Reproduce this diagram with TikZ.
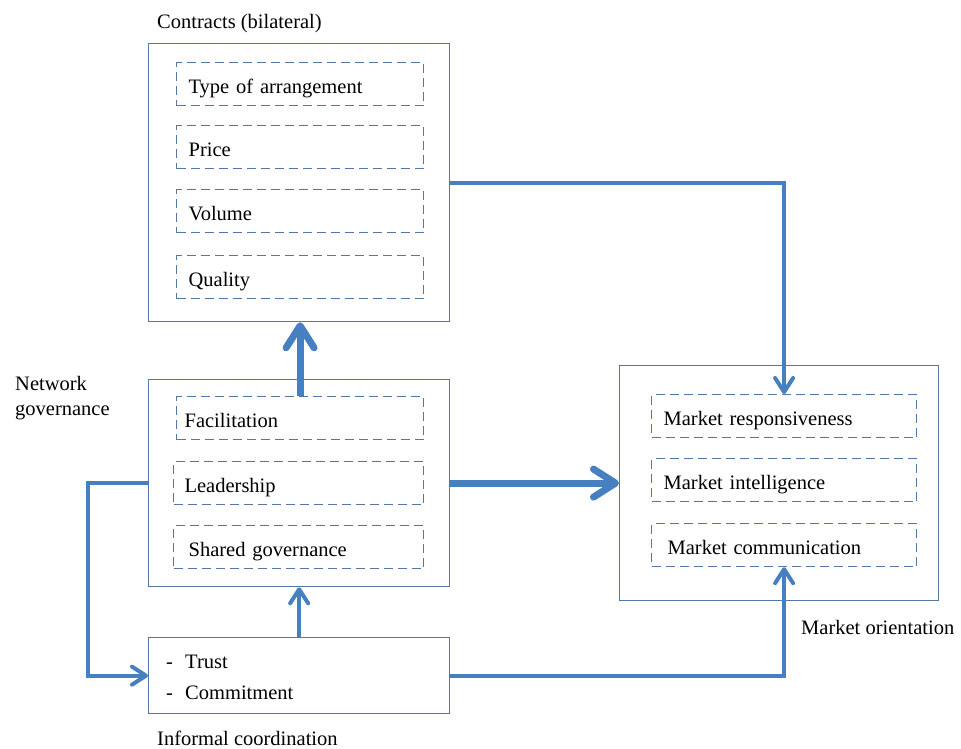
\documentclass[tikz,border=0pt]{standalone}
\usepackage{fontspec}
\setmainfont{Liberation Serif}
\usetikzlibrary{arrows.meta,positioning,calc}
\definecolor{bordc}{RGB}{84,119,165}
\definecolor{arrc}{RGB}{70,128,192}
\begin{document}
\begin{tikzpicture}[x=1pt,y=-1pt,
  every node/.style={font=\fontsize{20.5}{25}\selectfont, inner sep=0pt},
  outerbox/.style={draw=bordc, line width=1.3pt, anchor=north west},
  dbox/.style={draw=bordc, line width=1.2pt, dash pattern=on 9pt off 5pt, anchor=north west,
     minimum height=43pt, text height=20pt, text depth=2pt, text width=223pt, inner xsep=12pt, align=left},
  thickarr/.style={draw=arrc, line width=7pt, -{Straight Barb[round,length=22pt,width=28pt]}},
  thinarr/.style={draw=arrc, line width=4pt, -{Straight Barb[round,length=14pt,width=18pt]}},
  lbl/.style={anchor=west}]
\useasboundingbox (0,0) rectangle (961,748);
% outer boxes
\node[outerbox, minimum width=301pt, minimum height=278pt] (contracts) at (148,43) {};
\node[outerbox, minimum width=301pt, minimum height=207pt] (network) at (148,379) {};
\node[outerbox, minimum width=301pt, minimum height=76pt] (informal) at (148,637) {};
\node[outerbox, minimum width=319pt, minimum height=235pt] (market) at (619,365) {};
% dashed boxes in contracts
\node[dbox] (type) at (176,62) {Type of arrangement};
\node[dbox] (price) at (176,125) {Price};
\node[dbox] (volume) at (176,189) {Volume};
\node[dbox] (quality) at (176,255) {Quality};
% network governance
\node[dbox, inner xsep=8pt, text width=231pt] (facil) at (176,396) {Facilitation};
\node[dbox, inner xsep=11pt, text width=228pt] (lead) at (173,461) {Leadership};
\node[dbox, inner xsep=15pt, text width=220pt] (shared) at (173,525) {Shared governance};
% market orientation
\node[dbox, inner xsep=12pt, text width=241pt] (resp) at (651,394) {Market responsiveness};
\node[dbox, inner xsep=12pt, text width=241pt] (intel) at (651,458) {Market intelligence};
\node[dbox, inner xsep=16pt, text width=233pt] (comm) at (651,523) {Market communication};
% informal content
\node[anchor=west, align=left, font=\fontsize{20.5}{31}\selectfont] (items) at (166,677)
  {\makebox[19pt][l]{-}Trust\\\makebox[19pt][l]{-}Commitment};
% labels
\node[lbl] (lcontracts) at (157,24) {Contracts (bilateral)};
\node[lbl, align=left] (lnetwork) at (15,398) {Network\\governance};
\node[lbl] (linformal) at (157,738) {Informal coordination};
\node[lbl] (lmarket) at (801,627) {Market orientation};
% connectors
\draw[thickarr] (facil.north) -- (facil.north |- contracts.south);
\draw[thickarr] (network.east |- lead.east) -- (market.west |- lead.east);
\draw[thinarr] (contracts.east) -| (resp.north);
\draw[thinarr] (informal.east) -| (comm.south);
\draw[thinarr] (informal.north) -- (network.south);
\coordinate (loopc) at (88,0);
\draw[thinarr] (network.west) -- (loopc |- network.west) |- (informal.west);
\end{tikzpicture}
\end{document}
